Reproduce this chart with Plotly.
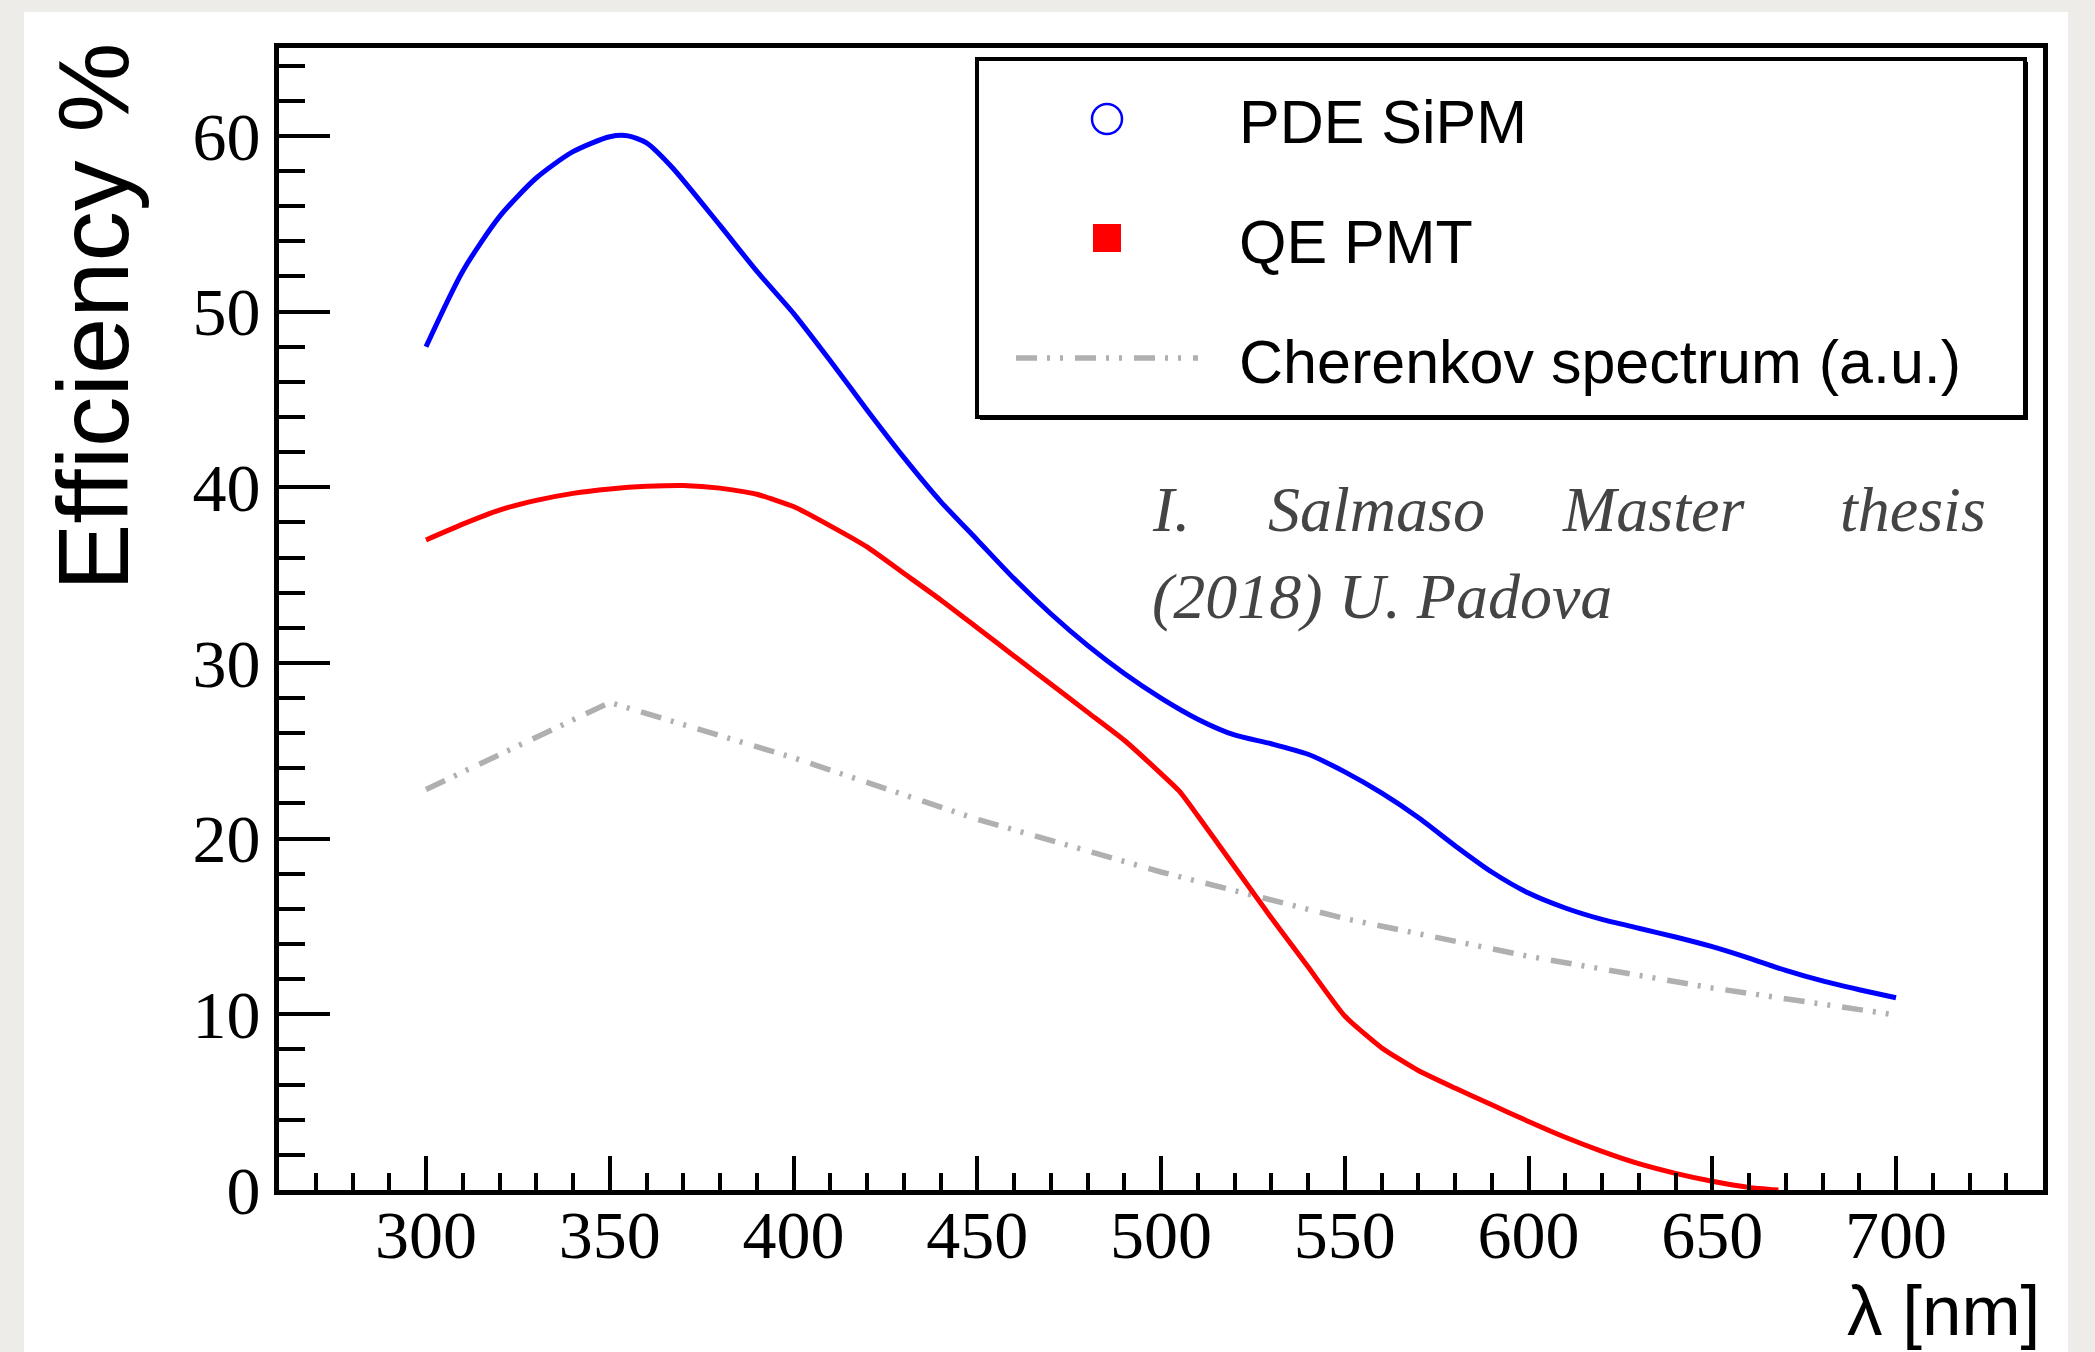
import plotly.graph_objects as go

# ---------------- data ----------------
sipm_wl = [300, 310, 320, 330, 340, 350, 355, 360, 367, 380, 390, 400, 410, 420, 430, 440,
           450, 460, 470, 480, 490, 500, 510, 520, 530, 540, 550, 560, 570, 580, 590,
           600, 610, 620, 630, 640, 650, 660, 670, 680, 690, 700]
sipm_pde = [48.0, 52.3, 55.4, 57.6, 59.1, 59.95, 60.0, 59.6, 58.2, 54.9, 52.3, 49.9, 47.2, 44.4, 41.7, 39.2,
            37.0, 34.8, 32.8, 31.0, 29.4, 28.0, 26.8, 25.9, 25.4, 24.8, 23.8, 22.6, 21.2, 19.6, 18.1,
            16.9, 16.05, 15.4, 14.9, 14.4, 13.85, 13.2, 12.5, 11.9, 11.4, 10.94]

pmt_wl = [300, 310, 320, 330, 340, 350, 360, 370, 380, 390, 400, 410, 420, 430, 440, 450,
          460, 470, 480, 490, 500, 505, 510, 520, 530, 540, 550, 560, 570, 580, 590, 600,
          610, 620, 630, 640, 650, 660, 668]
pmt_qe = [37.0, 37.9, 38.7, 39.25, 39.65, 39.9, 40.05, 40.1, 39.95, 39.6, 38.9, 37.8, 36.6, 35.1, 33.6, 32.0,
          30.4, 28.8, 27.2, 25.6, 23.7, 22.7, 21.3, 18.4, 15.5, 12.7, 9.9, 8.1, 6.8, 5.8, 4.85, 3.9,
          3.0, 2.2, 1.5, 0.95, 0.5, 0.15, 0.0]

cher_wl = [300, 350, 400, 450, 500, 550, 600, 650, 700]
cher_au = [22.8, 27.75, 24.6, 21.1, 18.1, 15.45, 13.3, 11.5, 9.96]

series_names = ["PDE SiPM", "QE PMT", "Cherenkov spectrum (a.u.)"]
x_ticks = [300, 350, 400, 450, 500, 550, 600, 650, 700]
y_ticks = [0, 10, 20, 30, 40, 50, 60]
credit_line1 = ["I.", "Salmaso", "Master", "thesis"]
credit_line2 = "(2018) U. Padova"

# ---------------- layout geometry (pixels) ----------------
W, H = 2095, 1352
PL, PR, PT, PB = 279, 2043, 48, 1190


def px_x(X):
    return (X - PL) / (PR - PL)


def px_y(Y):
    return (PB - Y) / (PB - PT)


SANS = "Liberation Sans, Arial, sans-serif"
SERIF = "Liberation Serif, Times New Roman, serif"
GRAY = "#b0b0b0"
DASHDOT = "21px,10px,3px,10px,3px,12px"

fig = go.Figure()
fig.add_trace(go.Scatter(x=cher_wl, y=cher_au, mode="lines", name=series_names[2],
                         line=dict(color=GRAY, width=5.5, dash=DASHDOT), showlegend=False))
fig.add_trace(go.Scatter(x=pmt_wl, y=pmt_qe, mode="lines", name=series_names[1],
                         line=dict(color="#ff0000", width=5, shape="spline", smoothing=0.5),
                         showlegend=False))
fig.add_trace(go.Scatter(x=sipm_wl, y=sipm_pde, mode="lines", name=series_names[0],
                         line=dict(color="#0000ff", width=5, shape="spline", smoothing=0.7),
                         showlegend=False))

shapes = [
    # white page
    dict(type="rect", xref="paper", yref="paper", layer="below",
         x0=px_x(24), x1=px_x(2068), y0=px_y(1352), y1=px_y(12),
         fillcolor="white", line=dict(width=0)),
    # legend shadow + box
    dict(type="rect", xref="paper", yref="paper",
         x0=px_x(980), x1=px_x(2028), y0=px_y(420), y1=px_y(62),
         fillcolor="black", line=dict(width=0)),
    dict(type="rect", xref="paper", yref="paper",
         x0=px_x(977), x1=px_x(2025), y0=px_y(417), y1=px_y(59),
         fillcolor="white", line=dict(color="black", width=4)),
    # legend symbols
    dict(type="circle", xref="paper", yref="paper",
         x0=px_x(1092), x1=px_x(1122), y0=px_y(134), y1=px_y(104),
         line=dict(color="#0000ff", width=2.5)),
    dict(type="rect", xref="paper", yref="paper",
         x0=px_x(1093), x1=px_x(1121), y0=px_y(252), y1=px_y(224),
         fillcolor="#ff0000", line=dict(width=0)),
    dict(type="line", xref="paper", yref="paper",
         x0=px_x(1016), x1=px_x(1198), y0=px_y(358), y1=px_y(358),
         line=dict(color=GRAY, width=5.5, dash=DASHDOT)),
]

annotations = []
leg_y = [122, 242, 362]
for name, yy in zip(series_names, leg_y):
    annotations.append(dict(text=name, xref="paper", yref="paper", x=px_x(1237), y=px_y(yy),
                            xanchor="left", yanchor="middle", showarrow=False,
                            font=dict(family=SANS, size=61, color="black")))

# credit text (justified first line)
CREDIT_FONT = dict(family=SERIF, size=64, color="#444444", style="italic")
word_x = [1150, 1266, 1560, None]
for w, xx in zip(credit_line1, word_x):
    if xx is None:
        annotations.append(dict(text=w, xref="paper", yref="paper", x=px_x(1988), y=px_y(510),
                                xanchor="right", yanchor="middle", showarrow=False, font=CREDIT_FONT))
    else:
        annotations.append(dict(text=w, xref="paper", yref="paper", x=px_x(xx), y=px_y(510),
                                xanchor="left", yanchor="middle", showarrow=False, font=CREDIT_FONT))
annotations.append(dict(text=credit_line2, xref="paper", yref="paper", x=px_x(1150), y=px_y(596),
                        xanchor="left", yanchor="middle", showarrow=False, font=CREDIT_FONT))

# axis titles
annotations.append(dict(text="Efficiency %", xref="paper", yref="paper", x=px_x(93), y=px_y(317),
                        xanchor="center", yanchor="middle", textangle=-90, showarrow=False,
                        font=dict(family=SANS, size=101, color="black")))
annotations.append(dict(text="λ [nm]", xref="paper", yref="paper", x=px_x(2042), y=px_y(1310),
                        xanchor="right", yanchor="middle", showarrow=False,
                        font=dict(family=SANS, size=71, color="black")))

fig.update_layout(
    width=W, height=H,
    margin=dict(l=PL, r=W - PR, t=PT, b=H - PB, pad=0),
    paper_bgcolor="#eeece8",
    plot_bgcolor="white",
    shapes=shapes,
    annotations=annotations,
    showlegend=False,
)

fig.update_xaxes(
    range=[260, 740], tickvals=x_ticks, ticktext=[str(v) for v in x_ticks],
    ticks="inside", ticklen=34, tickwidth=4, tickcolor="black",
    minor=dict(dtick=10, tick0=0, ticks="inside", ticklen=17, tickwidth=4, tickcolor="black"),
    showline=True, linewidth=5, linecolor="black", mirror=True,
    showgrid=False, zeroline=False,
    tickfont=dict(family=SERIF, size=68, color="black"),
    ticklabelstandoff=-19,
)
fig.update_yaxes(
    range=[0, 65], tickvals=y_ticks, ticktext=[str(v) for v in y_ticks],
    ticks="inside", ticklen=51, tickwidth=4, tickcolor="black",
    minor=dict(dtick=2, tick0=0, ticks="inside", ticklen=26, tickwidth=4, tickcolor="black"),
    showline=True, linewidth=5, linecolor="black", mirror=True,
    showgrid=False, zeroline=False,
    tickfont=dict(family=SERIF, size=68, color="black"),
    ticklabelstandoff=0,
)

fig.write_html("out.html")
